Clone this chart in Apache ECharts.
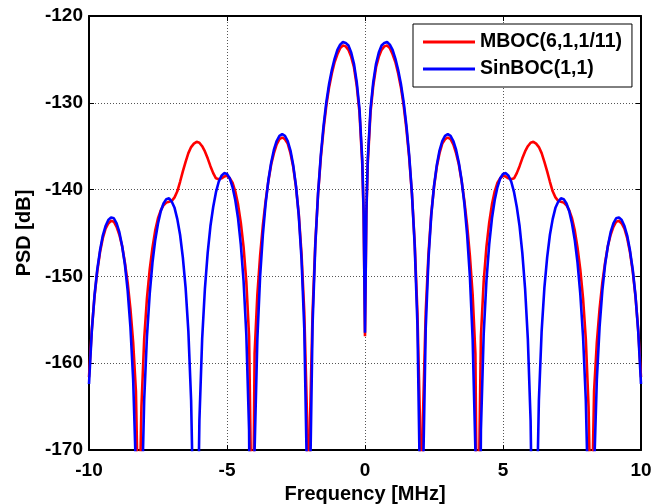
<!DOCTYPE html>
<html><head><meta charset="utf-8">
<script src="https://cdn.jsdelivr.net/npm/echarts@6/dist/echarts.min.js"></script>
<style>html,body{margin:0;padding:0;background:#fff}#c{width:651px;height:504px}</style>
</head><body><div id="c"></div>
<script>
// Frequency samples [MHz]
const freq = [-10, -9.9, -9.8, -9.7, -9.6, -9.5, -9.4, -9.3, -9.2, -9.1, -9, -8.9, -8.8, -8.7, -8.6, -8.5, -8.4, -8.3, -8.2, -8.15, -8.1, -8, -7.9, -7.8, -7.7, -7.6, -7.5, -7.4, -7.3, -7.2, -7.1, -7, -6.9, -6.8, -6.7, -6.6, -6.5, -6.4, -6.3, -6.2, -6.1, -6, -5.9, -5.8, -5.7, -5.6, -5.5, -5.4, -5.3, -5.2, -5.1, -5, -4.9, -4.8, -4.7, -4.6, -4.5, -4.4, -4.3, -4.2, -4.1, -4.09, -4, -3.9, -3.8, -3.7, -3.6, -3.5, -3.4, -3.3, -3.2, -3.1, -3, -2.9, -2.8, -2.7, -2.6, -2.5, -2.4, -2.3, -2.2, -2.1, -2.05, -2.04, -2, -1.9, -1.8, -1.7, -1.6, -1.5, -1.4, -1.3, -1.2, -1.1, -1, -0.9, -0.8, -0.7, -0.6, -0.5, -0.4, -0.3, -0.2, -0.1, -0.05,
  0,
  0.05, 0.1, 0.2, 0.3, 0.4, 0.5, 0.6, 0.7, 0.8, 0.9, 1, 1.1, 1.2, 1.3, 1.4, 1.5, 1.6, 1.7, 1.8, 1.9, 2, 2.04, 2.05, 2.1, 2.2, 2.3, 2.4, 2.5, 2.6, 2.7, 2.8, 2.9, 3, 3.1, 3.2, 3.3, 3.4, 3.5, 3.6, 3.7, 3.8, 3.9, 4, 4.09, 4.1, 4.2, 4.3, 4.4, 4.5, 4.6, 4.7, 4.8, 4.9, 5, 5.1, 5.2, 5.3, 5.4, 5.5, 5.6, 5.7, 5.8, 5.9, 6, 6.1, 6.2, 6.3, 6.4, 6.5, 6.6, 6.7, 6.8, 6.9, 7, 7.1, 7.2, 7.3, 7.4, 7.5, 7.6, 7.7, 7.8, 7.9, 8, 8.1, 8.15, 8.2, 8.3, 8.4, 8.5, 8.6, 8.7, 8.8, 8.9, 9, 9.1, 9.2, 9.3, 9.4, 9.5, 9.6, 9.7, 9.8, 9.9, 10];

// SinBOC(1,1) PSD [dB]
const sinboc = [-162.4, -156.4, -152.2, -149.2, -147.0, -145.3, -144.2, -143.5, -143.2, -143.3, -143.9, -144.9, -146.5, -148.6, -151.6, -155.8, -161.9, -172.4, -206.6, -193.4, -177.7, -164.2, -156.9, -152.0, -148.4, -145.8, -143.9, -142.5, -141.6, -141.1, -141.0, -141.4, -142.1, -143.4, -145.2, -147.8, -151.3, -156.3, -164.3, -180.7, -189.0, -166.6, -157.2, -151.4, -147.3, -144.2, -142.0, -140.3, -139.1, -138.4, -138.1, -138.2, -138.7, -139.7, -141.2, -143.3, -146.3, -150.5, -156.7, -167.7, -212.6, -236.6, -170.0, -157.2, -150.0, -145.2, -141.6, -138.9, -136.9, -135.4, -134.4, -133.8, -133.6, -133.8, -134.4, -135.5, -137.2, -139.6, -143.0, -148.0, -156.0, -173.6, -218.6, -211.5, -176.0, -155.6, -146.4, -140.4, -136.0, -132.6, -129.9, -127.8, -126.2, -124.9, -123.9, -123.3, -123.0, -123.1, -123.4, -124.2, -125.5, -127.6, -130.7, -136.5, -142.5,
  -156.5,
  -142.5, -136.5, -130.7, -127.6, -125.5, -124.2, -123.4, -123.1, -123.0, -123.3, -123.9, -124.9, -126.2, -127.8, -129.9, -132.6, -136.0, -140.4, -146.4, -155.6, -176.0, -211.5, -218.6, -173.6, -156.0, -148.0, -143.0, -139.6, -137.2, -135.5, -134.4, -133.8, -133.6, -133.8, -134.4, -135.4, -136.9, -138.9, -141.6, -145.2, -150.0, -157.2, -170.0, -236.6, -212.6, -167.7, -156.7, -150.5, -146.3, -143.3, -141.2, -139.7, -138.7, -138.2, -138.1, -138.4, -139.1, -140.3, -142.0, -144.2, -147.3, -151.4, -157.2, -166.6, -189.0, -180.7, -164.3, -156.3, -151.3, -147.8, -145.2, -143.4, -142.1, -141.4, -141.0, -141.1, -141.6, -142.5, -143.9, -145.8, -148.4, -152.0, -156.9, -164.2, -177.7, -193.4, -206.6, -172.4, -161.9, -155.8, -151.6, -148.6, -146.5, -144.9, -143.9, -143.3, -143.2, -143.5, -144.2, -145.3, -147.0, -149.2, -152.2, -156.4, -162.4];

// MBOC(6,1,1/11) PSD [dB]
const mboc = [-161.6, -156.2, -152.3, -149.4, -147.2, -145.6, -144.5, -143.9, -143.6, -143.7, -144.3, -145.2, -146.5, -148.4, -150.7, -153.7, -157.6, -163.2, -180.1, -173.2, -165.0, -157.2, -152.5, -149.2, -146.7, -144.7, -143.3, -142.4, -141.8, -141.5, -141.4, -141.3, -140.9, -140.2, -139.1, -137.9, -136.8, -135.8, -135.1, -134.7, -134.5, -134.6, -135.0, -135.6, -136.4, -137.3, -138.1, -138.7, -138.8, -138.7, -138.5, -138.4, -138.7, -139.2, -140.2, -141.7, -143.8, -146.6, -150.6, -156.9, -180.0, -192.0, -158.9, -152.1, -147.6, -144.1, -141.3, -139.0, -137.1, -135.8, -134.8, -134.2, -134.0, -134.2, -134.7, -135.8, -137.4, -139.7, -142.8, -147.4, -154.1, -166.2, -189.5, -186.0, -167.8, -154.2, -146.1, -140.5, -136.3, -133.0, -130.3, -128.2, -126.6, -125.3, -124.4, -123.7, -123.4, -123.5, -123.9, -124.7, -125.9, -128.0, -131.1, -137.0, -142.9,
  -156.9,
  -142.9, -137.0, -131.1, -128.0, -125.9, -124.7, -123.9, -123.5, -123.4, -123.7, -124.4, -125.3, -126.6, -128.2, -130.3, -133.0, -136.3, -140.5, -146.1, -154.2, -167.8, -186.0, -189.5, -166.2, -154.1, -147.4, -142.8, -139.7, -137.4, -135.8, -134.7, -134.2, -134.0, -134.2, -134.8, -135.8, -137.1, -139.0, -141.3, -144.1, -147.6, -152.1, -158.9, -192.0, -180.0, -156.9, -150.6, -146.6, -143.8, -141.7, -140.2, -139.2, -138.7, -138.4, -138.5, -138.7, -138.8, -138.7, -138.1, -137.3, -136.4, -135.6, -135.0, -134.6, -134.5, -134.7, -135.1, -135.8, -136.8, -137.9, -139.1, -140.2, -140.9, -141.3, -141.4, -141.5, -141.8, -142.4, -143.3, -144.7, -146.7, -149.2, -152.5, -157.2, -165.0, -173.2, -180.1, -163.2, -157.6, -153.7, -150.7, -148.4, -146.5, -145.2, -144.3, -143.7, -143.6, -143.9, -144.5, -145.6, -147.2, -149.4, -152.3, -156.2, -161.6];

const seriesNames = ['MBOC(6,1,1/11)', 'SinBOC(1,1)'];
const xTicks = [-10, -5, 0, 5, 10];
const yTicks = [-170, -160, -150, -140, -130, -120];

const FONT = '"Liberation Sans", Arial, Helvetica, sans-serif';
const tickFont = {fontFamily: FONT, fontWeight: 'bold', fontSize: 19, color: '#000'};
const nameFont = {fontFamily: FONT, fontWeight: 'bold', fontSize: 20, color: '#000'};
const frameLine = {onZero: false, lineStyle: {color: '#000', width: 2}};
const innerTick = {inside: true, length: 5, lineStyle: {color: '#000', width: 1}};
const gridLine = {show: true, lineStyle: {color: '#555', type: [1, 2], width: 1}};

const xMin = xTicks[0], xMax = xTicks[xTicks.length - 1], xStep = xTicks[1] - xTicks[0];
const yMin = yTicks[0], yMax = yTicks[yTicks.length - 1], yStep = yTicks[1] - yTicks[0];

const chart = echarts.init(document.getElementById('c'), null, {renderer: 'canvas'});
chart.setOption({
  animation: false,
  backgroundColor: '#fff',
  grid: {left: 89, right: 10, top: 16, bottom: 54, containLabel: false, outerBoundsMode: 'none'},
  legend: {
    orient: 'vertical', left: 413, top: 24,
    padding: [8, 10, 8, 10], itemGap: 7,
    itemWidth: 52, itemHeight: 3, icon: 'rect',
    backgroundColor: '#fff', borderColor: '#000', borderWidth: 1, borderRadius: 0,
    textStyle: {fontFamily: FONT, fontWeight: 'bold', fontSize: 19.5, color: '#000', lineHeight: 20},
    data: seriesNames
  },
  xAxis: [{
    type: 'value', min: xMin, max: xMax, interval: xStep, position: 'bottom',
    axisLine: frameLine, axisTick: innerTick,
    axisLabel: Object.assign({}, tickFont, {margin: 11, showMinLabel: true, showMaxLabel: true}),
    splitLine: gridLine,
    name: 'Frequency [MHz]', nameLocation: 'middle', nameGap: 32, nameTextStyle: nameFont
  }, {
    type: 'value', min: xMin, max: xMax, interval: xStep, position: 'top',
    axisLine: frameLine, axisTick: innerTick, axisLabel: {show: false}, splitLine: {show: false}
  }],
  yAxis: [{
    type: 'value', min: yMin, max: yMax, interval: yStep, position: 'left',
    axisLine: frameLine, axisTick: innerTick,
    axisLabel: Object.assign({}, tickFont, {margin: 6, showMinLabel: true, showMaxLabel: true}),
    splitLine: gridLine,
    name: 'PSD [dB]', nameLocation: 'middle', nameGap: 55, nameRotate: 90, nameTextStyle: nameFont
  }, {
    type: 'value', min: yMin, max: yMax, interval: yStep, position: 'right',
    axisLine: frameLine, axisTick: innerTick, axisLabel: {show: false}, splitLine: {show: false}
  }],
  series: [{
    name: seriesNames[0], type: 'line', xAxisIndex: 0, yAxisIndex: 0,
    data: freq.map((f, i) => [f, mboc[i]]),
    showSymbol: false, symbol: 'none', clip: true,
    lineStyle: {color: '#ff0000', width: 2.6}, itemStyle: {color: '#ff0000'}, z: 2
  }, {
    name: seriesNames[1], type: 'line', xAxisIndex: 0, yAxisIndex: 0,
    data: freq.map((f, i) => [f, sinboc[i]]),
    showSymbol: false, symbol: 'none', clip: true,
    lineStyle: {color: '#0000ff', width: 2.6}, itemStyle: {color: '#0000ff'}, z: 3
  }]
});
</script></body></html>
